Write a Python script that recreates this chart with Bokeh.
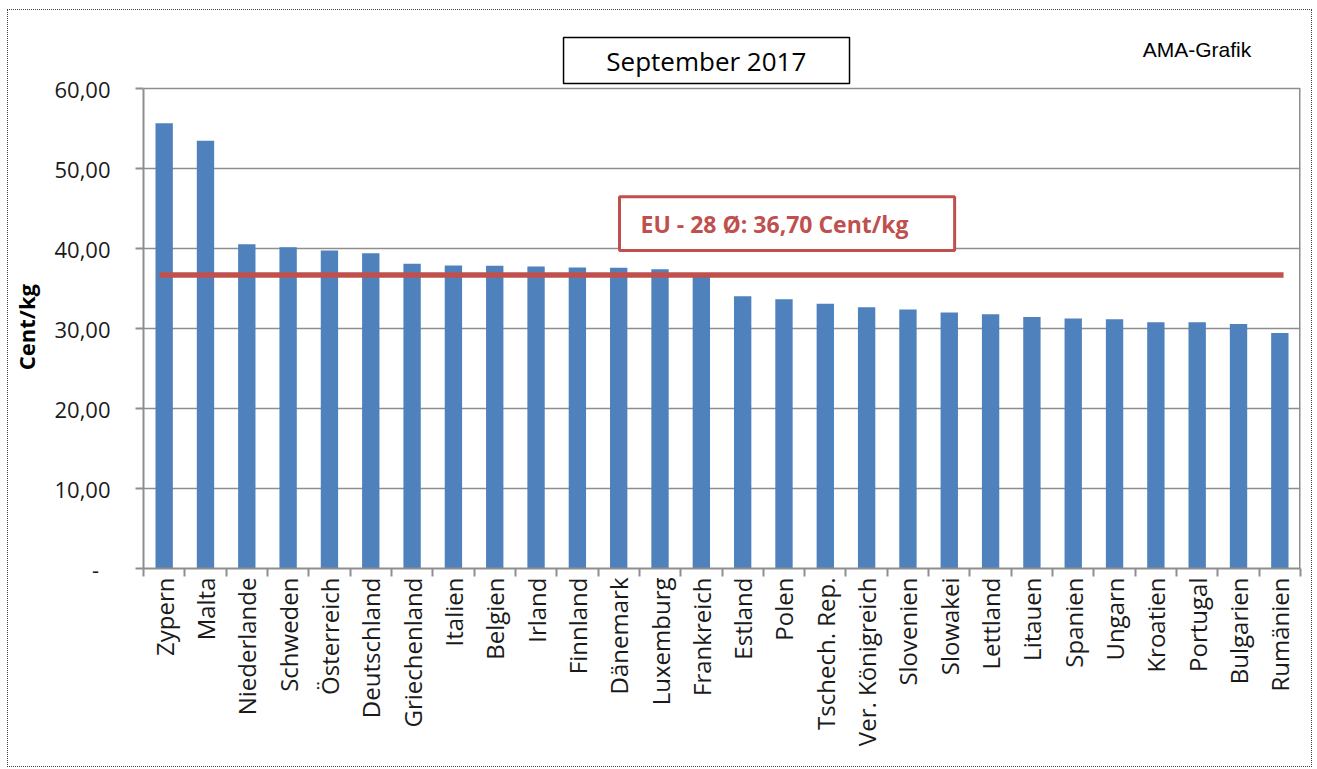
import math
from bokeh.plotting import figure
from bokeh.models import (Range1d, LinearAxis, FixedTicker, BoxAnnotation, Label,
                          ColumnDataSource)
from bokeh.embed import file_html
from bokeh.resources import INLINE

countries = ["Zypern", "Malta", "Niederlande", "Schweden", "Österreich", "Deutschland",
             "Griechenland", "Italien", "Belgien", "Irland", "Finnland", "Dänemark",
             "Luxemburg", "Frankreich", "Estland", "Polen", "Tschech. Rep.",
             "Ver. Königreich", "Slovenien", "Slowakei", "Lettland", "Litauen", "Spanien",
             "Ungarn", "Kroatien", "Portugal", "Bulgarien", "Rumänien"]
values = [55.67, 53.47, 40.54, 40.16, 39.75, 39.42, 38.09, 37.86, 37.84, 37.75, 37.63,
          37.60, 37.42, 36.85, 34.04, 33.67, 33.08, 32.65, 32.37, 31.99, 31.78, 31.45,
          31.25, 31.16, 30.79, 30.78, 30.57, 29.45]
eu_avg = 36.70
title_text = "September 2017"
source_text = "AMA-Grafik"
y_label = "Cent/kg"
y_ticks = [0, 10, 20, 30, 40, 50, 60]
y_tick_labels = ["-\u00a0\u00a0", "10,00", "20,00", "30,00", "40,00", "50,00", "60,00"]
y_max = 60

eu_text = "EU - 28 Ø: " + f"{eu_avg:.2f}".replace(".", ",") + " Cent/kg"

n = len(countries)
centers = [i + 0.5 for i in range(n)]
bounds = list(range(n + 1))

BAR = "#4F81BD"
RED = "#C0504D"
GRID = "#8e8e8e"
FONT = "Open Sans"

# frame extends above the value axis so the header boxes can sit in it
p = figure(width=1305, height=758,
           x_range=Range1d(0, n), y_range=Range1d(0, 67.5),
           output_backend="svg", toolbar_location=None, x_axis_location=None,
           min_border_left=135, min_border_right=13, min_border_top=18,
           min_border_bottom=200)
p.styles = {"border": "1px dotted #444", "margin-left": "7px", "margin-top": "9px"}
p.background_fill_color = "white"
p.border_fill_color = "white"
p.outline_line_color = None
p.xgrid.visible = False

src = ColumnDataSource(dict(x=centers, value=values, country=countries))
p.vbar(x="x", top="value", width=0.42, source=src, fill_color=BAR, line_color=None)

line_src = ColumnDataSource(dict(x0=[centers[0] - 0.11], x1=[centers[-1] + 0.09],
                                 y0=[eu_avg], y1=[eu_avg]))
p.segment(x0="x0", x1="x1", y0="y0", y1="y1", source=line_src, line_color=RED,
          line_width=5.5, line_cap="butt")

# right border of the value area
p.segment(x0=[n], x1=[n], y0=[0], y1=[y_max], line_color=GRID, line_width=3)

# y axis
ya = p.yaxis[0]
ya.bounds = (0, y_max)
ya.ticker = FixedTicker(ticks=y_ticks)
ya.major_label_overrides = {t: l for t, l in zip(y_ticks, y_tick_labels)}
ya.axis_line_color = GRID
ya.axis_line_width = 2
ya.major_tick_line_color = GRID
ya.major_tick_line_width = 2
ya.major_tick_out = 8
ya.major_tick_in = 0
ya.minor_tick_line_color = None
ya.major_label_standoff = 25
ya.major_label_text_font = FONT
ya.major_label_text_font_size = "22px"
ya.major_label_text_color = "#1a1a1a"
# trailing no-break spaces centre the visible label on the value area, not the frame
ya.axis_label = y_label + "\u00a0" * 10
ya.axis_label_text_font = FONT
ya.axis_label_text_font_size = "22px"
ya.axis_label_text_font_style = "bold"
ya.axis_label_text_color = "#000000"
ya.axis_label_standoff = 10

p.ygrid.grid_line_color = GRID
p.ygrid.grid_line_width = 1.5

# x axis: tick marks at category boundaries, labels at category centres
tick_axis = LinearAxis(ticker=FixedTicker(ticks=bounds),
                       major_label_overrides={t: "" for t in bounds},
                       major_label_text_font_size="1px", major_label_standoff=0,
                       axis_line_color=GRID, axis_line_width=2,
                       major_tick_line_color=GRID, major_tick_line_width=2,
                       major_tick_out=8, major_tick_in=0, minor_tick_line_color=None)
label_axis = LinearAxis(ticker=FixedTicker(ticks=centers),
                        major_label_overrides={c: name for c, name in zip(centers, countries)},
                        axis_line_color=None, major_tick_line_color=None,
                        minor_tick_line_color=None, major_label_orientation=math.pi / 2,
                        major_label_standoff=-5, major_label_text_font=FONT,
                        major_label_text_font_size="24px",
                        major_label_text_color="#1a1a1a")
p.add_layout(tick_axis, "below")
p.add_layout(label_axis, "below")

# title box
p.add_layout(BoxAnnotation(left=10.165, right=17.086, bottom=60.62, top=66.36,
                           fill_color="white", fill_alpha=1, line_color="black",
                           line_alpha=1, line_width=1.5))
p.add_layout(Label(x=13.62, y=63.49, text=title_text, text_align="center",
                   text_baseline="middle", text_font=FONT, text_font_size="26px",
                   text_color="#000000"))
# source note
p.add_layout(Label(x=24.18, y=64.86, text=source_text, text_align="left",
                   text_baseline="middle", text_font="Liberation Sans",
                   text_font_size="21px", text_color="#000000"))
# EU average box
p.add_layout(BoxAnnotation(left=11.52, right=19.63, bottom=39.75, top=46.48,
                           fill_color="white", fill_alpha=1, line_color=RED,
                           line_alpha=1, line_width=3))
p.add_layout(Label(x=12.03, y=43.1, text=eu_text, text_align="left",
                   text_baseline="middle", text_font=FONT, text_font_size="23px",
                   text_font_style="bold", text_color=RED))

open("out.html", "w").write(file_html(p, INLINE))
